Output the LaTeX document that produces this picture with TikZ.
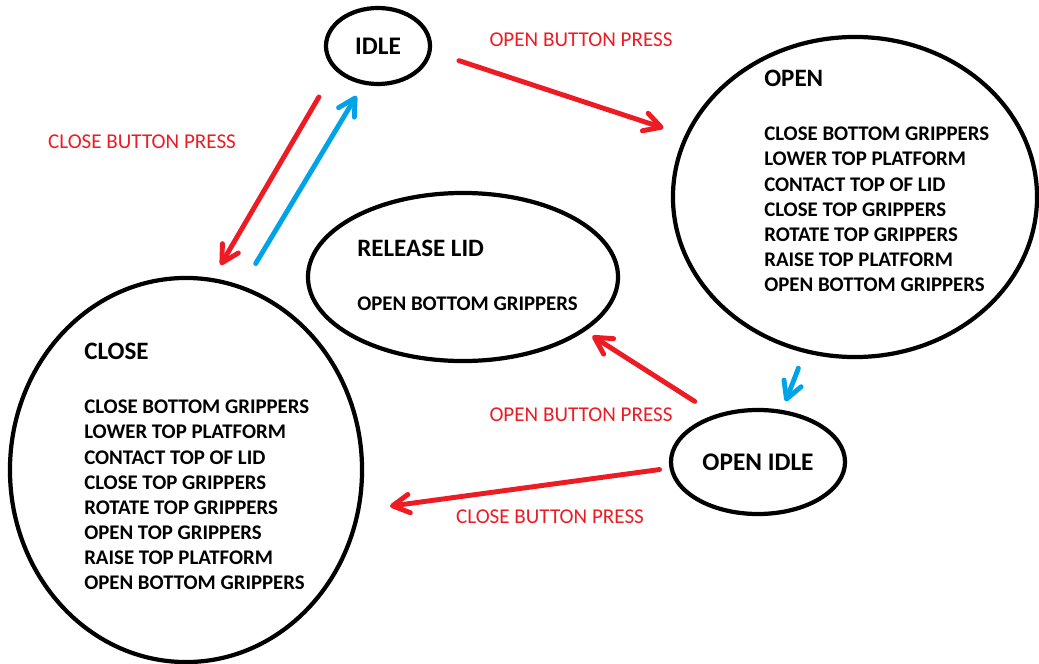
\documentclass[tikz,border=0pt]{standalone}
\usepackage{fontspec}
\setmainfont{Carlito}
\usepackage{tikz}
\usetikzlibrary{arrows.meta,shapes.geometric}
\definecolor{pressred}{HTML}{ED1C24}
\definecolor{returnblue}{HTML}{00A2E8}
\newcommand{\statetitle}[1]{{\fontsize{17.8}{17.9}\selectfont #1}}

\begin{document}
\begin{tikzpicture}[x=0.025cm,y=-0.025cm,
  >={Straight Barb[length=4.2mm,width=4.6mm,round]},
  state/.style={draw,ellipse,line width=3pt,inner sep=0pt},
  steps/.style={align=left,inner sep=0pt,anchor=north west,font=\bfseries\fontsize{14.8}{17.9}\selectfont},
  press/.style={text=pressred,inner sep=0pt,font=\fontsize{15}{18}\selectfont},
  redarrow/.style={->,pressred,line width=3.5pt,line cap=round},
  bluearrow/.style={->,returnblue,line width=3.5pt,line cap=round}]
  \useasboundingbox (0,0) rectangle (1039,664);
  % states
  \node[state,minimum width=2.6cm,minimum height=1.9cm,font=\bfseries\fontsize{18}{20}\selectfont] (idle) at (378,46) {IDLE};
  \node[state,minimum width=9.1cm,minimum height=8cm] (open) at (855,197) {};
  \node[state,minimum width=7.75cm,minimum height=4.2cm] (release) at (463,277) {};
  \node[state,minimum width=4.35cm,minimum height=2.6cm,font=\bfseries\fontsize{18}{20}\selectfont] (openidle) at (758,462) {OPEN IDLE};
  \node[state,minimum width=8.8cm,minimum height=9.6cm] (close) at (186,470) {};
  % what each state does
  \node[steps] (open-steps) at (764,70) {\statetitle{OPEN}\\[20.5pt]
    CLOSE BOTTOM GRIPPERS\\ LOWER TOP PLATFORM\\ CONTACT TOP OF LID\\ CLOSE TOP GRIPPERS\\
    ROTATE TOP GRIPPERS\\ RAISE TOP PLATFORM\\ OPEN BOTTOM GRIPPERS};
  \node[steps] (release-steps) at (357,240) {\statetitle{RELEASE LID}\\[20.5pt] OPEN BOTTOM GRIPPERS};
  \node[steps] (close-steps) at (84,343) {\statetitle{CLOSE}\\[20.5pt]
    CLOSE BOTTOM GRIPPERS\\ LOWER TOP PLATFORM\\ CONTACT TOP OF LID\\ CLOSE TOP GRIPPERS\\
    ROTATE TOP GRIPPERS\\ OPEN TOP GRIPPERS\\ RAISE TOP PLATFORM\\ OPEN BOTTOM GRIPPERS};
  % transitions
  \draw[redarrow,shorten <=0.72cm,shorten >=0.56cm] (idle.-6.4) -- (open.160.7);
  \draw[redarrow,shorten <=0.78cm,shorten >=0.38cm] (idle.209.7) -- (close.82.7);
  \draw[bluearrow,shorten <=0.65cm,shorten >=0.33cm] (close.73.7) -- (idle.-111.1);
  \draw[bluearrow,shorten <=0.41cm,shorten >=0.23cm] (open.-108.4) -- (openidle.65.7);
  \draw[redarrow,shorten <=0.61cm,shorten >=0.22cm] (openidle.132.1) -- (release.-24);
  \draw[redarrow,shorten <=0.25cm,shorten >=0.75cm] (openidle.184.4) -- (close.-13);
  \node[press] (press-open1) at (581,40) {OPEN BUTTON PRESS};
  \node[press] (press-close1) at (142,142) {CLOSE BUTTON PRESS};
  \node[press] (press-open2) at (581,415) {OPEN BUTTON PRESS};
  \node[press] (press-close2) at (550,517) {CLOSE BUTTON PRESS};
\end{tikzpicture}
\end{document}
